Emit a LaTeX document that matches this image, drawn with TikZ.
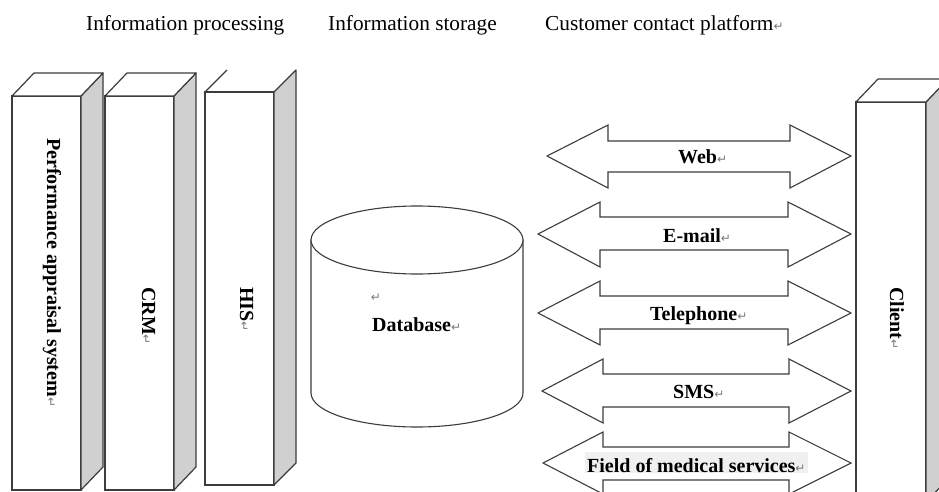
\documentclass[tikz,border=0pt]{standalone}
\usepackage{fontspec}
\setmainfont{Liberation Serif}
\newfontfamily\symf{DejaVu Sans}
\definecolor{edge}{HTML}{3C3C3C}
\definecolor{sidegray}{HTML}{D0D0D0}
\definecolor{pmgray}{HTML}{7A7A7A}
\definecolor{hlgray}{HTML}{F0F0F0}
\newcommand\pmark{\textcolor{pmgray}{\symf\mdseries\fontsize{12}{12}\selectfont\char"21B5}}
\newcommand\prismbox[5]{%
  \node[front, minimum width=#4pt, minimum height=#5pt, anchor=north west] (#1) at (#2,#3) {};
  \draw[sideface] (#1.north east) -- ++(22,-23) -- ++(0,#5) -- (#1.south east) -- cycle;
  \draw[topface] (#1.north west) -- ++(22,-23) -- ++(#4,0) -- (#1.north east) -- cycle;
}
\tikzset{
  front/.style={draw=edge, line width=1.2pt, fill=white, inner sep=0pt, outer sep=0pt, rectangle},
  sideface/.style={draw=edge, line width=1.2pt, fill=sidegray, line join=round},
  topface/.style={draw=edge, line width=1.2pt, fill=white, line join=round},
  dblarrow/.style={draw=edge, line width=1.1pt, fill=white, line join=miter},
  cyl/.style={draw=edge, line width=1.1pt, fill=white},
  title/.style={font=\fontsize{21.3}{22}\selectfont, inner sep=0pt, anchor=base west},
  lbl/.style={font=\bfseries\fontsize{20}{20}\selectfont, inner sep=0pt, anchor=base west},
  vlbl/.style={lbl, rotate=-90},
}
\begin{document}
\begin{tikzpicture}[x=1pt,y=-1pt]
\useasboundingbox (0,0) rectangle (939,492);
\clip (0,0) rectangle (939,492);
\fill[white] (0,0) rectangle (939,492);

% titles
\node[title] (t1) at (86,31) {Information processing};
\node[title] (t2) at (328,31) {Information storage};
\node[title] (t3) at (545,31) {Customer contact platform\pmark};

% information processing boxes
\prismbox{pas}{12}{96}{69}{394}
\prismbox{crm}{105}{96}{69}{394}
% HIS box (top face only partly drawn)
\node[front, minimum width=69pt, minimum height=393pt, anchor=north west] (his) at (205,92) {};
\draw[sideface] (his.north east) -- ++(22,-22) -- ++(0,393) -- (his.south east) -- cycle;
\draw[draw=edge, line width=1.2pt] (his.north west) -- ++(22,-22);

\node[vlbl] (pastext) at (47,138) {Performance appraisal system\pmark};
\node[vlbl] (crmtext) at (142,287) {CRM\pmark};
\node[vlbl] (histext) at (240,287) {HIS\pmark};

% database cylinder
\filldraw[cyl] (311,240) -- (311,393) arc[start angle=180, end angle=0, x radius=106, y radius=34] -- (523,240) -- cycle;
\draw[cyl] (417,240) ellipse[x radius=106, y radius=34];
\node[inner sep=0pt] (dbmark) at (376,298) {\pmark};
\node[lbl] (dbtext) at (372,331) {Database\pmark};

% client box
\prismbox{client}{856}{102}{70}{400}
\node[vlbl] (clienttext) at (890,287) {Client\pmark};

% double arrows
\draw[dblarrow] (547,156) -- (608,125) -- (608,141) -- (790,141) -- (790,125) -- (851,156)
  -- (790,188) -- (790,172) -- (608,172) -- (608,188) -- cycle;
\node[lbl] (web) at (678,163) {Web\pmark};

\draw[dblarrow] (538,234) -- (600,202) -- (600,217) -- (788,217) -- (788,202) -- (851,234)
  -- (788,267) -- (788,250) -- (600,250) -- (600,267) -- cycle;
\node[lbl] (email) at (663,242) {E-mail\pmark};

\draw[dblarrow] (538,313) -- (600,281) -- (600,296) -- (788,296) -- (788,281) -- (851,313)
  -- (788,345) -- (788,329) -- (600,329) -- (600,345) -- cycle;
\node[lbl] (tel) at (650,320) {Telephone\pmark};

\draw[dblarrow] (542,391) -- (603,359) -- (603,374) -- (789,374) -- (789,359) -- (851,391)
  -- (789,423) -- (789,407) -- (603,407) -- (603,423) -- cycle;
\node[lbl] (sms) at (673,398) {SMS\pmark};

\draw[dblarrow] (543,463) -- (603,432) -- (603,447) -- (789,447) -- (789,432) -- (851,463)
  -- (789,494) -- (789,480) -- (603,480) -- (603,494) -- cycle;
\fill[hlgray] (585,452) rectangle (808,473);
\node[lbl] (field) at (587,472) {Field of medical services\pmark};
\end{tikzpicture}
\end{document}
